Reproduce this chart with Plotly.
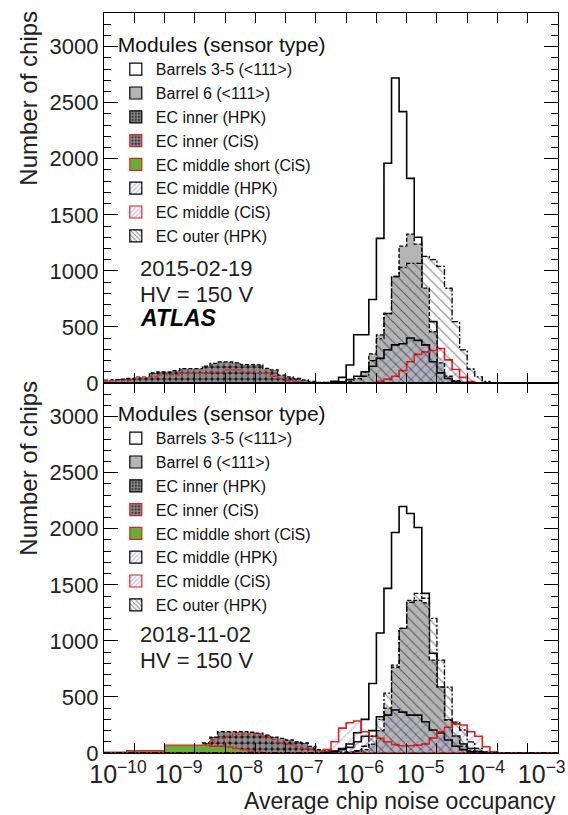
import numpy as np
import plotly.graph_objects as go
from plotly.subplots import make_subplots

# ---------------- binning (log10 of occupancy) ----------------
log_min, log_max, n_bins = -10.0, -2.5, 60

series_names = [
    "Barrels 3-5 (<111>)", "Barrel 6 (<111>)", "EC inner (HPK)", "EC inner (CiS)",
    "EC middle short (CiS)", "EC middle (HPK)", "EC middle (CiS)", "EC outer (HPK)",
]
panel_dates = ["2015-02-19", "2018-11-02"]
hv_label = "HV = 150 V"
y_tick_vals = [0, 500, 1000, 1500, 2000, 2500, 3000]

# ---------------- 2015-02-19 ----------------
barrels35_2015 = [
    0, 0, 0, 0, 0, 0, 0, 0, 0, 0,
    0, 0, 0, 0, 0, 0, 0, 0, 0, 0,
    0, 0, 0, 0, 0, 0, 0, 0, 0, 5,
    15, 50, 160, 430, 430, 745, 1290, 1960, 2720, 2420,
    1825, 1300, 547, 547, 72, 30, 10, 0, 0, 0,
    0, 0, 0, 0, 0, 0, 0, 0, 0, 0]
barrel6_2015 = [
    0, 0, 0, 0, 0, 0, 0, 0, 0, 0,
    0, 0, 0, 0, 0, 0, 0, 0, 0, 0,
    0, 0, 0, 0, 0, 0, 0, 0, 0, 0,
    0, 5, 15, 40, 100, 260, 430, 620, 950, 1220,
    1327, 1238, 846, 457, 180, 60, 20, 0, 0, 0,
    0, 0, 0, 0, 0, 0, 0, 0, 0, 0]
ecinner_hpk_2015 = [
    25, 30, 35, 40, 40, 40, 90, 100, 100, 110,
    128, 128, 128, 150, 175, 188, 188, 180, 164, 164,
    161, 130, 117, 70, 54, 40, 27, 15, 5, 0,
    0, 0, 0, 0, 0, 0, 0, 0, 0, 0,
    0, 0, 0, 0, 0, 0, 0, 0, 0, 0,
    0, 0, 0, 0, 0, 0, 0, 0, 0, 0]
ecinner_cis_2015 = [
    20, 24, 24, 24, 54, 54, 54, 72, 72, 72,
    87, 87, 87, 87, 99, 99, 117, 117, 99, 99,
    87, 87, 60, 42, 20, 10, 5, 0, 0, 0,
    0, 0, 0, 0, 0, 0, 0, 0, 0, 0,
    0, 0, 0, 0, 0, 0, 0, 0, 0, 0,
    0, 0, 0, 0, 0, 0, 0, 0, 0, 0]
ecmidshort_cis_2015 = [0] * 60
ecmid_hpk_2015 = [
    0, 0, 0, 0, 0, 0, 0, 0, 0, 0,
    0, 0, 0, 0, 0, 0, 0, 0, 0, 0,
    0, 0, 0, 0, 0, 0, 0, 0, 0, 0,
    5, 10, 30, 60, 100, 150, 220, 296, 340, 350,
    402, 380, 340, 190, 90, 40, 15, 5, 0, 0,
    0, 0, 0, 0, 0, 0, 0, 0, 0, 0]
ecmid_cis_2015 = [
    0, 0, 0, 0, 0, 0, 0, 0, 0, 0,
    0, 0, 0, 0, 0, 0, 0, 0, 0, 0,
    0, 0, 0, 0, 0, 0, 0, 0, 0, 0,
    0, 0, 0, 0, 0, 0, 15, 35, 60, 110,
    190, 255, 278, 290, 308, 206, 120, 50, 12, 0,
    0, 0, 0, 0, 0, 0, 0, 0, 0, 0]
ecouter_hpk_2015 = [
    0, 0, 0, 0, 0, 0, 0, 0, 0, 0,
    0, 0, 0, 0, 0, 0, 0, 0, 0, 0,
    0, 0, 0, 0, 0, 0, 0, 0, 0, 0,
    0, 0, 0, 0, 60, 200, 395, 620, 950, 1030,
    1067, 1067, 1130, 1100, 1040, 845, 547, 296, 125, 54,
    15, 0, 0, 0, 0, 0, 0, 0, 0, 0]

# ---------------- 2018-11-02 ----------------
barrels35_2018 = [
    0, 0, 0, 0, 0, 0, 0, 0, 0, 0,
    0, 0, 0, 0, 0, 0, 0, 0, 0, 0,
    0, 0, 0, 0, 0, 0, 0, 0, 0, 5,
    15, 40, 80, 180, 300, 620, 1070, 1468, 1967, 2198,
    2136, 2011, 1424, 890, 587, 294, 150, 80, 40, 15,
    5, 0, 0, 0, 0, 0, 0, 0, 0, 0]
barrel6_2018 = [
    0, 0, 0, 0, 0, 0, 0, 0, 0, 0,
    0, 0, 0, 0, 0, 0, 0, 0, 0, 0,
    0, 0, 0, 0, 0, 0, 0, 0, 0, 0,
    0, 0, 0, 10, 30, 80, 200, 400, 765, 1112,
    1362, 1362, 1340, 828, 587, 294, 150, 60, 20, 0,
    0, 0, 0, 0, 0, 0, 0, 0, 0, 0]
ecinner_hpk_2018 = [
    0, 0, 0, 0, 0, 0, 0, 0, 0, 0,
    5, 10, 20, 89, 142, 190, 190, 190, 190, 185,
    178, 160, 142, 130, 116, 100, 89, 59, 30, 20,
    15, 10, 10, 8, 5, 0, 0, 0, 0, 0,
    0, 0, 0, 0, 0, 0, 0, 0, 0, 0,
    0, 0, 0, 0, 0, 0, 0, 0, 0, 0]
ecinner_cis_2018 = [
    0, 0, 0, 0, 0, 0, 0, 0, 0, 0,
    0, 0, 10, 40, 116, 130, 150, 169, 169, 169,
    160, 137, 120, 90, 75, 56, 40, 27, 15, 8,
    0, 0, 0, 0, 0, 0, 0, 0, 0, 0,
    0, 0, 0, 0, 0, 0, 0, 0, 0, 0,
    0, 0, 0, 0, 0, 0, 0, 0, 0, 0]
ecmidshort_cis_2018 = [
    8, 8, 8, 20, 20, 20, 20, 20, 71, 71,
    71, 71, 71, 71, 60, 60, 55, 40, 30, 15,
    8, 4, 0, 0, 0, 0, 0, 0, 0, 0,
    0, 0, 0, 0, 0, 0, 0, 0, 0, 0,
    0, 0, 0, 0, 0, 0, 0, 0, 0, 0,
    0, 0, 0, 0, 0, 0, 0, 0, 0, 0]
ecmid_hpk_2018 = [
    0, 0, 0, 0, 0, 0, 0, 0, 0, 0,
    0, 0, 0, 0, 0, 0, 0, 0, 0, 0,
    0, 0, 0, 0, 0, 0, 0, 0, 0, 5,
    15, 30, 50, 100, 150, 200, 323, 338, 383, 365,
    338, 338, 279, 205, 178, 116, 60, 30, 10, 0,
    0, 0, 0, 0, 0, 0, 0, 0, 0, 0]
ecmid_cis_2018 = [
    0, 0, 0, 0, 0, 0, 0, 0, 0, 0,
    0, 0, 0, 0, 0, 0, 0, 0, 0, 0,
    0, 0, 0, 0, 0, 0, 0, 0, 0, 30,
    100, 222, 270, 285, 190, 150, 130, 100, 75, 65,
    65, 70, 80, 133, 190, 230, 260, 250, 190, 150,
    56, 10, 0, 0, 0, 0, 0, 0, 0, 0]
ecouter_hpk_2018 = [
    0, 0, 0, 0, 0, 0, 0, 0, 0, 0,
    0, 0, 0, 0, 0, 0, 0, 0, 0, 0,
    0, 0, 0, 0, 0, 0, 0, 0, 0, 0,
    0, 0, 0, 20, 60, 150, 300, 534, 783, 1112,
    1344, 1424, 1380, 1201, 828, 587, 276, 205, 100, 40,
    10, 0, 0, 0, 0, 0, 0, 0, 0, 0]

panels = [
    [barrels35_2015, barrel6_2015, ecinner_hpk_2015, ecinner_cis_2015,
     ecmidshort_cis_2015, ecmid_hpk_2015, ecmid_cis_2015, ecouter_hpk_2015],
    [barrels35_2018, barrel6_2018, ecinner_hpk_2018, ecinner_cis_2018,
     ecmidshort_cis_2018, ecmid_hpk_2018, ecmid_cis_2018, ecouter_hpk_2018],
]

# ---------------- styles ----------------
BLUE = "rgb(95,105,205)"
GREEN = "rgb(96,178,48)"
RED = "rgb(235,30,30)"
GRAY = "rgb(180,180,180)"
TRANSP = "rgba(0,0,0,0)"
CHECK = dict(shape=".", fgcolor="white", bgcolor="rgb(25,25,25)", size=6, solidity=0.7)
styles = [
    dict(line=dict(color="black", width=1.6), fillcolor="white", pattern=None),
    dict(line=dict(color="black", width=1.3, dash="4px,2px"), fillcolor=GRAY, pattern=None),
    dict(line=dict(color="black", width=1.3, dash="4px,2px"), fillcolor=TRANSP, pattern=CHECK),
    dict(line=dict(color=RED, width=1.3, dash="4px,2px"), fillcolor=TRANSP, pattern=CHECK),
    dict(line=dict(color=RED, width=1.3), fillcolor=GREEN, pattern=None),
    dict(line=dict(color="black", width=1.6), fillcolor=TRANSP,
         pattern=dict(shape="/", fgcolor=BLUE, bgcolor=TRANSP, size=7, solidity=0.15)),
    dict(line=dict(color=RED, width=1.6), fillcolor=TRANSP,
         pattern=dict(shape="/", fgcolor=BLUE, bgcolor=TRANSP, size=7, solidity=0.15)),
    dict(line=dict(color="black", width=1.3, dash="6px,2px,2px,2px"), fillcolor=TRANSP,
         pattern=dict(shape="\\", fgcolor="black", bgcolor=TRANSP, size=7, solidity=0.15)),
]

edges = np.linspace(log_min, log_max, n_bins + 1)
x_edges = 10.0 ** edges

fig = make_subplots(rows=2, cols=1, shared_xaxes=True, vertical_spacing=0.0)

FONT = "Liberation Sans, Arial, Helvetica, sans-serif"

for p, series in enumerate(panels):
    row = p + 1
    legend_id = "legend" if p == 0 else "legend2"
    for name, vals, st in zip(series_names, series, styles):
        y = list(vals) + [vals[-1]]
        kw = dict(x=x_edges, y=y, mode="lines", line_shape="hv", fill="tozeroy",
                  fillcolor=st["fillcolor"], line=st["line"], showlegend=False,
                  hoverinfo="skip", name=name)
        if st["pattern"] is not None:
            kw["fillpattern"] = st["pattern"]
        fig.add_trace(go.Scatter(**kw), row=row, col=1)
    # legend entries
    for name, st in zip(series_names, styles):
        mk = dict(color=st["fillcolor"] if st["fillcolor"] != TRANSP else "white",
                  line=dict(color=st["line"]["color"], width=1.2))
        if st["pattern"] is not None:
            pat = st["pattern"]
            mk["pattern"] = dict(shape=pat["shape"], fgcolor=pat["fgcolor"],
                                 bgcolor=pat["bgcolor"] if pat["bgcolor"] != TRANSP else "white",
                                 size=4, solidity=max(pat["solidity"], 0.3))
        fig.add_trace(go.Bar(x=[None], y=[None], name=name, marker=mk,
                             legend=legend_id, showlegend=True), row=row, col=1)

axis_common = dict(showline=True, linecolor="black", linewidth=1.2, mirror="ticks",
                   ticks="inside", tickcolor="black", zeroline=False, showgrid=False)

for r in (1, 2):
    fig.update_xaxes(type="log", range=[log_min, log_max], dtick=1, ticklen=10, tickwidth=1.2,
                     exponentformat="power", ticklabelshift=14, ticklabelstandoff=0,
                     ticklabeloverflow="allow",
                     minor=dict(dtick=0.5, ticks="inside", ticklen=10, tickcolor="black"),
                     tickfont=dict(family=FONT, size=20, color="#222"),
                     row=r, col=1, **axis_common)
    fig.update_yaxes(range=[0, 3300], tickvals=y_tick_vals, ticklen=14, tickwidth=1.2,
                     minor=dict(dtick=100, ticks="inside", ticklen=7, tickcolor="black"),
                     tickfont=dict(family=FONT, size=22, color="#222"),
                     row=r, col=1, **axis_common)

W, H = 568, 815
ml, mr, mt, mb = 104, 3, 13, 62
pw, ph = W - ml - mr, H - mt - mb


def px(xp):
    return (xp - ml) / pw


def py(yp):
    return (H - mb - yp) / ph


annotations = []
for p, top in enumerate([13, 383]):
    annotations.append(dict(text="Number of chips", textangle=-90, x=px(27), y=py(top - 4),
                            xref="paper", yref="paper", xanchor="center", yanchor="top",
                            showarrow=False, font=dict(family=FONT, size=24, color="#222")))
annotations.append(dict(text="Average chip noise occupancy", x=1.0, y=py(801), xref="paper",
                        yref="paper", xanchor="right", yanchor="middle", showarrow=False,
                        font=dict(family=FONT, size=23, color="#222")))
for p, (date, ytop) in enumerate(zip(panel_dates, [268, 634])):
    annotations.append(dict(text=date, x=px(139), y=py(ytop), xref="paper", yref="paper",
                            xanchor="left", yanchor="middle", showarrow=False,
                            font=dict(family=FONT, size=22, color="#222")))
    annotations.append(dict(text=hv_label, x=px(139), y=py(ytop + 26), xref="paper",
                            yref="paper", xanchor="left", yanchor="middle", showarrow=False,
                            font=dict(family=FONT, size=22, color="#222")))
annotations.append(dict(text="<b><i>ATLAS</i></b>", x=px(139), y=py(318), xref="paper",
                        yref="paper", xanchor="left", yanchor="middle", showarrow=False,
                        font=dict(family=FONT, size=23, color="black")))

legend_common = dict(x=px(116), xanchor="left", yanchor="top", bgcolor="rgba(0,0,0,0)",
                     borderwidth=0, font=dict(family=FONT, size=16, color="#111"),
                     itemwidth=30, tracegroupgap=0,
                     title=dict(text="Modules (sensor type)", side="top",
                                font=dict(family=FONT, size=21, color="#111")))

fig.update_layout(
    width=W, height=H, margin=dict(l=ml, r=mr, t=mt, b=mb),
    paper_bgcolor="white", plot_bgcolor="white",
    annotations=annotations, barmode="overlay",
    legend=dict(y=py(25), **legend_common),
    legend2=dict(y=py(394), **legend_common),
)

fig.write_html("out.html")
